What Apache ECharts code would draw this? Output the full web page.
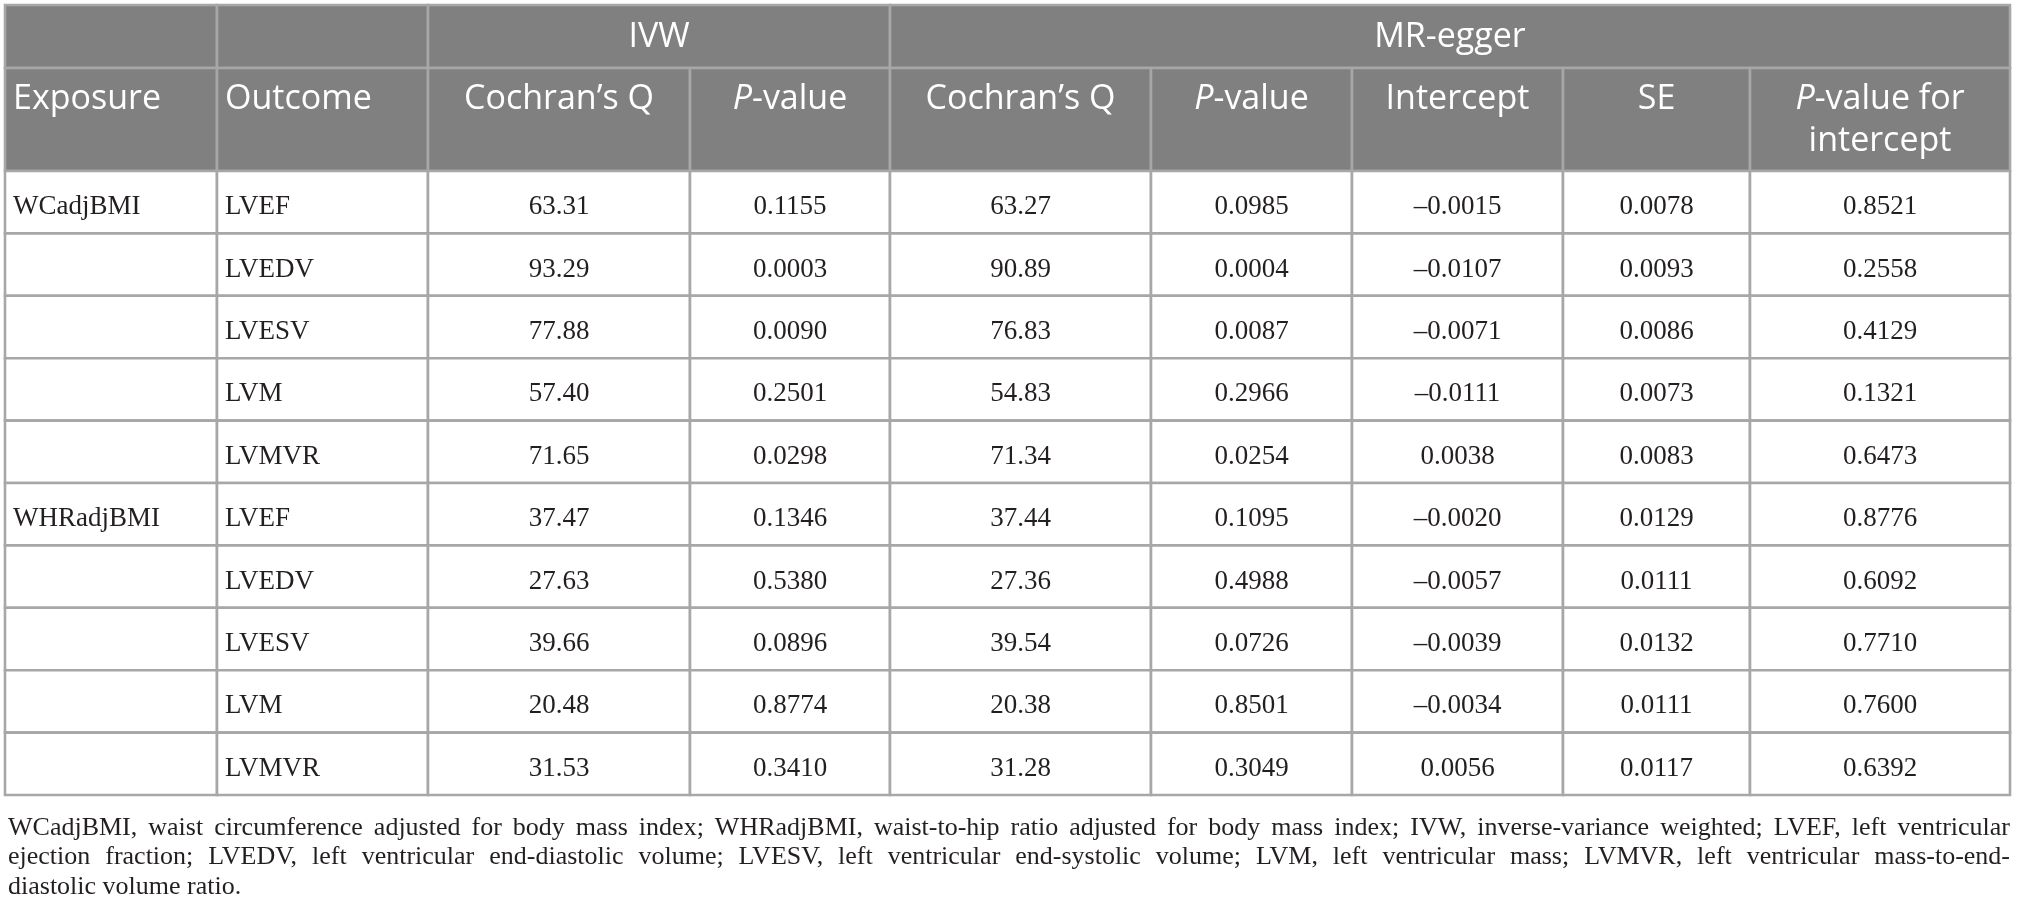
<!DOCTYPE html>
<html>
<head>
<meta charset="utf-8">
<title>Heterogeneity and pleiotropy tests</title>
<script src="https://cdn.jsdelivr.net/npm/echarts@6/dist/echarts.min.js"></script>
<style>
  html, body { margin: 0; padding: 0; background: #fff; }
  #chart { width: 2017px; height: 917px; }
</style>
</head>
<body>
<div id="chart"></div>
<script>
// table values, one array per column
const exposures = ['WCadjBMI', '', '', '', '', 'WHRadjBMI', '', '', '', ''];
const outcomes = ['LVEF', 'LVEDV', 'LVESV', 'LVM', 'LVMVR', 'LVEF', 'LVEDV', 'LVESV', 'LVM', 'LVMVR'];
const ivwQ = [63.31, 93.29, 77.88, 57.40, 71.65, 37.47, 27.63, 39.66, 20.48, 31.53];
const ivwP = [0.1155, 0.0003, 0.0090, 0.2501, 0.0298, 0.1346, 0.5380, 0.0896, 0.8774, 0.3410];
const eggerQ = [63.27, 90.89, 76.83, 54.83, 71.34, 37.44, 27.36, 39.54, 20.38, 31.28];
const eggerP = [0.0985, 0.0004, 0.0087, 0.2966, 0.0254, 0.1095, 0.4988, 0.0726, 0.8501, 0.3049];
const intercept = [-0.0015, -0.0107, -0.0071, -0.0111, 0.0038, -0.0020, -0.0057, -0.0039, -0.0034, 0.0056];
const se = [0.0078, 0.0093, 0.0086, 0.0073, 0.0083, 0.0129, 0.0111, 0.0132, 0.0111, 0.0117];
const pIntercept = [0.8521, 0.2558, 0.4129, 0.1321, 0.6473, 0.8776, 0.6092, 0.7710, 0.7600, 0.6392];

// header labels
const groupHeaders = ['', '', 'IVW', 'MR-egger'];
const groupSpans = [1, 1, 2, 5];
const columnHeaders = ['Exposure', 'Outcome', 'Cochran’s Q', '{i|P}-value', 'Cochran’s Q',
  '{i|P}-value', 'Intercept', 'SE', '{i|P}-value for\nintercept'];

const footnoteLines = [
  'WCadjBMI, waist circumference adjusted for body mass index; WHRadjBMI, waist-to-hip ratio adjusted for body mass index; IVW, inverse-variance weighted; LVEF, left ventricular',
  'ejection fraction; LVEDV, left ventricular end-diastolic volume; LVESV, left ventricular end-systolic volume; LVM, left ventricular mass; LVMVR, left ventricular mass-to-end-',
  'diastolic volume ratio.'
];

// layout (pixel units of the hidden axes)
const COL_W = [212, 211, 262, 200, 261, 201, 211, 187, 260];
const HEAD_H = [63, 103];
const ROW_H = 62.4;

const SANS = '"Open Sans", "Noto Sans", sans-serif';
const SERIF = '"Liberation Serif", "DejaVu Serif", serif';
const HEAD_BG = '#808080';
const LINE = '#a7a7a7';
const INK = '#231f20';

function fmt(v, digits) {
  const s = Math.abs(v).toFixed(digits);
  return v < 0 ? '–' + s : s;
}

const colEdges = [0];
COL_W.forEach(w => colEdges.push(colEdges[colEdges.length - 1] + w));
const rowEdges = [0, HEAD_H[0], HEAD_H[0] + HEAD_H[1]];
outcomes.forEach(() => rowEdges.push(rowEdges[rowEdges.length - 1] + ROW_H));
const totalW = colEdges[colEdges.length - 1];
const totalH = rowEdges[rowEdges.length - 1];

// build the cell list
const cells = [];
let c0 = 0;
groupHeaders.forEach((t, i) => {
  cells.push({ c: c0, span: groupSpans[i], r: 0, text: t, kind: 'group' });
  c0 += groupSpans[i];
});
columnHeaders.forEach((t, i) => {
  cells.push({ c: i, span: 1, r: 1, text: t, kind: 'head', left: i < 2 });
});
outcomes.forEach((o, k) => {
  const vals = [exposures[k], o, fmt(ivwQ[k], 2), fmt(ivwP[k], 4), fmt(eggerQ[k], 2),
    fmt(eggerP[k], 4), fmt(intercept[k], 4), fmt(se[k], 4), fmt(pIntercept[k], 4)];
  vals.forEach((t, i) => {
    cells.push({ c: i, span: 1, r: k + 2, text: t, kind: 'body', left: i < 2 });
  });
});

const cellData = cells.map(d => [colEdges[d.c], rowEdges[d.r], colEdges[d.c + d.span], rowEdges[d.r + 1]]);

function renderCell(params, api) {
  const d = cells[params.dataIndex];
  const p0 = api.coord([api.value(0), api.value(1)]);
  const p1 = api.coord([api.value(2), api.value(3)]);
  const isHead = d.kind !== 'body';
  const children = [{
    type: 'rect',
    shape: { x: p0[0], y: p0[1], width: p1[0] - p0[0], height: p1[1] - p0[1] },
    style: { fill: isHead ? HEAD_BG : '#fff', stroke: LINE, lineWidth: 2.6 }
  }];
  if (d.text) {
    const x = d.left ? p0[0] + 8 : (p0[0] + p1[0]) / 2;
    let y, va;
    if (d.kind === 'group') {
      y = (p0[1] + p1[1]) / 2 + 1; va = 'middle';
    } else if (d.kind === 'head') {
      y = p0[1] + 10; va = 'top';
    } else {
      y = (p0[1] + p1[1]) / 2 + 5; va = 'middle';
    }
    const headStyle = { fontFamily: SANS, fontSize: 34, fill: '#fff', lineHeight: 42 };
    const bodyStyle = { fontFamily: SERIF, fontSize: 27, fill: INK };
    const st = Object.assign({ text: d.text, x: x, y: y, align: d.left ? 'left' : 'center', verticalAlign: va },
      isHead ? headStyle : bodyStyle);
    if (isHead) {
      st.rich = { i: Object.assign({ fontStyle: 'italic' }, headStyle) };
    }
    children.push({ type: 'text', style: st });
  }
  return { type: 'group', children: children };
}

// justified footnote, one text element per word
const FOOT_FONT = 26;
const measure = document.createElement('canvas').getContext('2d');
measure.font = FOOT_FONT + 'px ' + SERIF;
const footLeft = 8, footRight = 2010, footTop = 828, footLead = 29.5;
const footnote = [];
footnoteLines.forEach((line, li) => {
  const words = line.split(' ');
  const y = footTop + li * footLead;
  const last = li === footnoteLines.length - 1;
  const widths = words.map(w => measure.measureText(w).width);
  const sum = widths.reduce((a, b) => a + b, 0);
  const space = measure.measureText(' ').width;
  const gap = last ? space : Math.max(space * 0.6, (footRight - footLeft - sum) / (words.length - 1));
  let x = footLeft;
  words.forEach((w, i) => {
    footnote.push({
      type: 'text', x: x, y: y,
      style: { text: w, fontFamily: SERIF, fontSize: FOOT_FONT, fill: INK, verticalAlign: 'middle' }
    });
    x += widths[i] + gap;
  });
});

const chart = echarts.init(document.getElementById('chart'), null, { renderer: 'canvas' });
chart.setOption({
  backgroundColor: '#fff',
  animation: false,
  grid: { left: 5, top: 5, width: totalW, height: totalH },
  xAxis: { type: 'value', min: 0, max: totalW, show: false },
  yAxis: { type: 'value', min: 0, max: totalH, inverse: true, show: false },
  series: [{
    type: 'custom',
    renderItem: renderCell,
    data: cellData,
    encode: { x: [0, 2], y: [1, 3] },
    silent: true,
    clip: false
  }],
  graphic: footnote
});
</script>
</body>
</html>
